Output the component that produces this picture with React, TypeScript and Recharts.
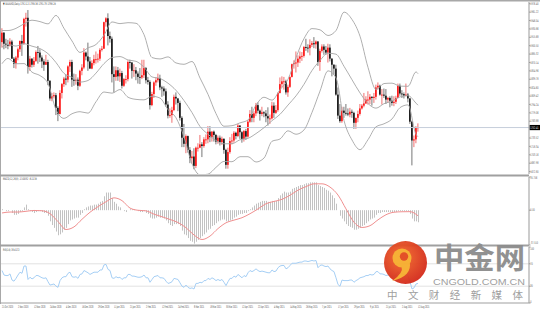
import React from 'react';
import { ComposedChart, Bar, Line, XAxis, YAxis, ReferenceLine } from 'recharts';

// ---- daily XAUUSD bars, 21 Oct 2020 .. 12 Aug 2021 ----
const openP = [
  1907,1924,1904,1902,1901,1908,1877,1868,
  1879,1894,1909,1904,1949,1951,1862,1877,1866,1873,1889,1888,1879,1872,1866,1871,1837,1805,1809,1811,1788,
  1777,1815,1831,1841,1839,1863,1871,1839,1837,1839,1828,1855,1861,1888,1881,1872,1859,1869,1876,1876,1877,1893,
  1895,1943,1950,1918,1913,1849,1844,1856,1845,1851,1828,1840,1840,1871,1870,1855,1856,1850,1844,1843,
  1847,1860,1838,1835,1793,1813,1834,1838,1842,1825,1823,1818,1794,1774,1775,1784,1808,1805,1797,1770,
  1734,1723,1737,1712,1697,1700,1683,1716,1716,1722,1719,1731,1731,1745,1735,1745,1739,1727,1734,1726,1732,1712,1685,
  1708,1728,1729,1743,1737,1756,1744,1732,1746,1736,1763,1777,1770,1778,1793,1783,1777,1780,1778,1773,1769,
  1769,1792,1779,1784,1815,1831,1836,1836,1816,1826,1844,1867,1869,1870,1877,1881,1882,1898,1897,1896,1902,
  1905,1903,1908,1871,1891,1899,1893,1888,1897,1877,1866,1859,1812,1774,1764,1783,1779,1778,1776,1781,1779,1761,
  1770,1777,1787,1792,1796,1803,1803,1808,1806,1808,1825,1828,1812,1812,1810,1803,1806,1801,1797,1799,1806,1828,
  1814,1813,1810,1812,1805,1763,1729,1731,1752,
];
const highP = [
  1932,1925,1913,1911,1914,1911,1880,1882,
  1897,1910,1920,1951,1960,1965,1882,1878,1880,1892,1900,1894,1883,1876,1884,1875,1838,1815,1816,1815,1791,
  1820,1833,1844,1848,1865,1875,1875,1850,1849,1843,1857,1867,1896,1890,1906,1880,1874,1884,1890,1886,1896,1900,
  1944,1952,1959,1926,1917,1863,1863,1862,1859,1855,1842,1847,1874,1875,1871,1867,1862,1854,1860,1875,
  1875,1862,1844,1838,1817,1836,1843,1850,1848,1828,1827,1823,1800,1787,1790,1812,1816,1806,1801,1773,
  1759,1740,1738,1717,1710,1715,1718,1724,1739,1726,1735,1740,1755,1755,1746,1747,1741,1738,1738,1736,1733,1714,1716,
  1735,1741,1746,1745,1759,1757,1746,1748,1750,1766,1784,1790,1782,1797,1798,1785,1790,1782,1784,1789,1776,
  1799,1798,1793,1816,1843,1845,1844,1839,1830,1845,1868,1874,1890,1883,1890,1889,1900,1913,1903,1912,1909,
  1916,1910,1909,1895,1903,1903,1900,1904,1903,1878,1867,1866,1825,1795,1790,1790,1795,1787,1788,1785,1781,1770,
  1783,1795,1795,1815,1809,1818,1813,1809,1815,1830,1834,1830,1822,1823,1822,1808,1809,1810,1809,1810,1832,1832,
  1820,1816,1832,1815,1806,1765,1738,1755,1760,
];
const lowP = [
  1897,1894,1896,1894,1899,1877,1860,1859,
  1874,1889,1882,1902,1935,1850,1855,1861,1862,1871,1868,1871,1860,1855,1866,1829,1801,1800,1805,1775,1764,
  1776,1805,1826,1829,1834,1853,1826,1828,1830,1820,1826,1847,1858,1874,1855,1859,1858,1865,1868,1870,1873,1890,
  1895,1935,1901,1906,1834,1816,1837,1837,1835,1823,1826,1832,1836,1859,1841,1844,1838,1832,1831,1840,
  1842,1832,1830,1785,1791,1806,1828,1834,1820,1808,1810,1790,1769,1770,1761,1782,1794,1782,1765,1717,
  1717,1706,1707,1688,1687,1677,1679,1709,1715,1699,1716,1723,1724,1726,1727,1727,1722,1723,1720,1721,1705,1678,1678,
  1705,1722,1725,1731,1735,1732,1725,1727,1730,1734,1761,1762,1762,1773,1778,1765,1773,1771,1762,1756,1759,
  1767,1770,1777,1781,1814,1825,1821,1812,1808,1824,1843,1859,1852,1862,1869,1873,1879,1891,1888,1883,1898,
  1896,1895,1864,1855,1888,1884,1884,1870,1872,1845,1848,1810,1768,1761,1761,1770,1774,1773,1771,1770,1750,1750,
  1762,1774,1785,1789,1795,1794,1795,1792,1797,1803,1821,1810,1794,1806,1795,1797,1789,1792,1791,1795,1805,1810,
  1806,1805,1809,1798,1759,1684,1717,1724,1745,
];
const closeP = [
  1924,1904,1902,1901,1908,1877,1868,1879,
  1894,1909,1904,1949,1951,1862,1877,1866,1873,1889,1888,1879,1872,1866,1871,1837,1805,1809,1811,1788,1777,
  1815,1831,1841,1839,1863,1871,1839,1837,1839,1828,1855,1861,1888,1881,1872,1859,1869,1876,1876,1877,1893,1895,
  1943,1950,1918,1913,1849,1844,1856,1845,1851,1828,1840,1840,1871,1870,1855,1856,1850,1844,1843,1847,
  1860,1838,1835,1793,1813,1834,1838,1842,1825,1823,1818,1794,1774,1775,1784,1808,1805,1797,1770,1734,
  1723,1737,1712,1697,1700,1683,1716,1716,1722,1719,1731,1731,1745,1735,1745,1739,1727,1734,1726,1732,1712,1685,1708,
  1728,1729,1743,1737,1756,1744,1732,1746,1736,1763,1777,1770,1778,1793,1783,1777,1780,1778,1773,1769,1769,
  1792,1779,1784,1815,1831,1836,1836,1816,1826,1844,1867,1869,1870,1877,1881,1882,1898,1897,1896,1902,1905,
  1903,1908,1871,1891,1899,1893,1888,1897,1877,1866,1859,1812,1774,1764,1783,1779,1778,1776,1781,1779,1761,1770,
  1777,1787,1792,1796,1803,1803,1808,1806,1808,1825,1828,1812,1812,1810,1803,1806,1801,1797,1799,1806,1828,1814,
  1813,1810,1812,1805,1763,1729,1731,1752,1753,
];

// ---- Bollinger bands (20,2), read at sampled bars ----
const bbIdx = [0,3,7,11,15,19,23,27,31,35,39,43,47,51,55,59,63,67,71,75,79,83,87,91,95,99,103,107,111,115,119,123,127,131,135,139,143,147,151,155,159,163,167,171,175,179,183,187,191,195,199,203,207,208];
const bbUp = [1927.9,1927.9,1931.8,1940.1,1946.6,1944.0,1940.0,1955.2,1931.8,1909.0,1888.3,1896.5,1902.7,1919.5,1943.4,1940.4,1942.1,1941.0,1920.5,1879.0,1876.5,1880.2,1869.3,1866.8,1871.9,1842.0,1812.5,1777.6,1754.8,1755.8,1760.9,1766.1,1792.9,1807.2,1802.0,1820.9,1839.7,1879.1,1913.3,1931.4,1929.2,1918.9,1927.9,1961.2,1947.9,1917.6,1861.3,1821.3,1832.0,1832.7,1827.3,1827.0,1853.0,1849.8];
const bbMid = [1897.9,1902.7,1899.8,1904.1,1899.6,1895.2,1886.0,1870.0,1850.4,1843.2,1834.7,1837.5,1850.9,1868.1,1879.0,1880.8,1874.7,1872.2,1861.5,1844.0,1841.1,1832.6,1819.7,1801.2,1779.5,1754.4,1740.3,1729.0,1723.0,1723.2,1730.3,1732.9,1741.5,1752.2,1764.8,1776.3,1793.1,1809.7,1830.7,1855.6,1873.8,1886.9,1885.1,1863.2,1838.9,1815.0,1795.9,1787.5,1795.6,1800.3,1807.9,1810.2,1796.6,1792.8];
const bbLo = [1867.9,1877.5,1867.8,1868.1,1852.6,1846.4,1832.0,1784.8,1769.0,1777.4,1781.1,1778.5,1799.1,1816.7,1814.6,1821.2,1807.3,1803.4,1802.5,1809.0,1805.7,1785.0,1770.1,1735.6,1687.1,1666.8,1668.1,1680.4,1691.2,1690.6,1699.7,1699.7,1690.1,1697.2,1727.6,1731.7,1746.5,1740.3,1748.1,1779.8,1818.4,1854.9,1842.3,1765.2,1729.9,1712.4,1730.5,1753.7,1759.2,1767.9,1788.5,1793.4,1740.2,1735.8];

// ---- MACD(12,26,9) main (histogram) per bar ----
const macdMain = [
  1,0,-1,-1,0,-3,-5,-5,
  -4,-2,-1,3,6,1,-1,-2,-3,-2,-1,-1,-2,-3,-3,-6,-12,-16,-19,-23,-27,
  -26,-24,-21,-19,-15,-11,-10,-9,-8,-8,-5,-3,1,3,4,5,5,6,6,7,9,10,
  15,19,19,19,13,9,7,4,3,0,-1,-2,0,1,1,1,0,-1,-2,-2,
  -1,-3,-4,-8,-9,-9,-8,-7,-8,-8,-9,-11,-14,-16,-17,-15,-15,-15,-17,-22,
  -26,-27,-30,-33,-34,-36,-34,-32,-30,-28,-26,-24,-21,-20,-17,-16,-14,-12,-11,-10,-10,-12,-12,
  -11,-10,-8,-7,-5,-4,-4,-3,-3,-1,1,3,5,7,8,9,10,10,10,9,9,
  10,10,10,13,16,18,20,19,19,20,23,24,25,26,27,27,28,29,29,30,30,
  30,30,27,26,25,24,22,21,19,16,13,7,0,-6,-9,-12,-15,-17,-18,-19,-21,-21,
  -20,-19,-17,-16,-14,-12,-10,-9,-8,-5,-3,-3,-2,-2,-2,-2,-2,-2,-2,-2,-1,-1,
  -1,-1,-1,-1,-4,-9,-12,-12,-13,
];
const sigIdx = [0,4,8,12,16,20,24,28,32,36,40,44,48,52,56,60,64,68,72,76,80,84,88,92,96,100,104,108,112,116,120,124,128,132,136,140,144,148,152,156,160,164,168,172,176,180,184,188,192,196,200,204,208];
const sigVal = [-3,-2,-2,-1.2,-0.3,-0.6,-3.7,-12.3,-20.8,-18,-9.8,-2.2,3.8,9.1,13.3,10.3,2.3,-0.1,-0.7,-4.3,-7.1,-10,-13.3,-18.9,-26.7,-31.6,-27.9,-19.8,-13.6,-10.7,-8.1,-3.8,1.4,7,9.4,11.7,16.1,21.6,25.4,28.4,28.4,24.9,16.3,1.4,-13,-18.6,-16.7,-10.4,-4.9,-2.2,-1.7,-1.6,-6];

// ---- RSI(14) per bar ----
const rsi14 = [
  58,50,49,49,52,41,39,44,
  50,55,53,66,66,42,46,43,45,49,49,47,45,44,45,38,32,33,34,30,28,
  40,45,47,47,53,55,47,46,47,44,51,52,58,56,54,51,53,55,55,55,59,59,
  68,69,60,58,45,44,47,45,46,42,45,45,51,51,48,48,47,46,46,47,
  50,45,45,37,42,47,48,49,45,45,44,39,35,36,38,44,43,42,36,30,
  28,32,28,26,27,25,35,35,37,36,40,40,44,42,45,43,40,42,40,42,37,31,38,
  44,44,48,46,51,48,45,49,47,54,58,56,58,61,58,56,57,56,55,54,54,
  59,56,57,63,66,67,67,61,63,67,71,71,71,72,73,73,75,75,74,75,76,
  75,76,63,67,68,66,65,66,61,58,56,45,33,30,41,40,40,40,41,41,37,40,
  42,45,46,47,49,49,51,50,51,56,56,52,52,51,49,50,49,48,48,50,56,52,
  52,51,51,49,38,25,27,34,35,
];

// ---- axis labels ----
const priceTicks = [1976.40,1961.22,1946.04,1930.86,1915.68,1900.50,1885.32,1870.14,1854.96,1839.78,1824.60,1809.42,1794.24,1779.06,1763.88,1733.52,1718.34,1703.16,1687.98,1672.80];
const lastPrice = 1752.41;
const macdTicks = [35.756, 0, -37.51];
const macdTickLabels = ['35.756', '0.00', '-37.510'];
const rsiTicks = [100, 70, 30, 0];
const dateIdx = [0,8,16,24,32,40,48,56,64,72,80,88,96,104,112,120,128,136,144,152,160,168,176,184,192,200,208];
const dateLabels = ['21 Oct 2020','2 Nov 2020','12 Nov 2020','24 Nov 2020','4 Dec 2020','16 Dec 2020','29 Dec 2020','11 Jan 2021','21 Jan 2021','2 Feb 2021','12 Feb 2021','24 Feb 2021','8 Mar 2021','18 Mar 2021','30 Mar 2021','12 Apr 2021','22 Apr 2021','4 May 2021','14 May 2021','26 May 2021','7 Jun 2021','17 Jun 2021','29 Jun 2021','9 Jul 2021','21 Jul 2021','2 Aug 2021','12 Aug 2021'];

type Row = {
  i: number; o: number; h: number; l: number; c: number; range: number[];
  macd: number; rsi: number; up: number | null; mid: number | null; lo: number | null; sig: number | null;
};
const rows: Row[] = closeP.map((c, i) => ({
  i, o: openP[i], h: highP[i], l: lowP[i], c, range: [lowP[i], highP[i]],
  macd: macdMain[i], rsi: rsi14[i], up: null, mid: null, lo: null, sig: null,
}));
bbIdx.forEach((d, k) => { rows[d].up = bbUp[k]; rows[d].mid = bbMid[k]; rows[d].lo = bbLo[k]; });
sigIdx.forEach((d, k) => { rows[d].sig = sigVal[k]; });

const X_DOMAIN: [number, number] = [-1, 263.5];
const FONT = 'DejaVu Sans';

// tiny, horizontally condensed label text (like the terminal's small axis font)
const Tiny = ({ x, y, children, fill = '#555', sx = 0.55, size = 3.6 }: any) => (
  <text transform={`translate(${x},${y}) scale(${sx},1)`} fontSize={size} fill={fill} fontFamily={FONT}>
    {children}
  </text>
);

const Candle = (props: any) => {
  const { x, y, width, height, payload } = props;
  if (x == null || !payload) return null;
  const { o, h, l, c } = payload;
  const top = Math.min(y, y + height);
  const hh = Math.abs(height);
  const py = (p: number) => top + (h === l ? 0 : ((h - p) / (h - l)) * hh);
  const cx = x + width / 2;
  const bull = c >= o;
  const bt = py(Math.max(o, c));
  const bb = py(Math.min(o, c));
  return (
    <g>
      <line x1={cx} x2={cx} y1={top} y2={top + hh} stroke={bull ? '#f07070' : '#777'} strokeWidth={1} />
      <rect x={cx - 0.8} y={bt} width={1.6} height={Math.max(0.9, bb - bt)} fill={bull ? '#ff1010' : '#111'} />
    </g>
  );
};

const HistBar = (props: any) => {
  const { x, y, width, height } = props;
  if (x == null) return null;
  const top = Math.min(y, y + height);
  return <rect x={Math.round(x + width / 2)} y={top} width={1} height={Math.abs(height)} fill="#c2c2c2" />;
};

const PriceTick = (props: any) => (
  <Tiny x={530.3} y={props.y + 1.2}>{Number(props.payload.value).toFixed(2)}</Tiny>
);

const MacdTick = (props: any) => {
  const k = macdTicks.indexOf(props.payload.value);
  const dy = k === 0 ? 2.2 : k === 2 ? -0.6 : 1.2;
  return <Tiny x={530.3} y={props.y + dy}>{k >= 0 ? macdTickLabels[k] : ''}</Tiny>;
};

const RsiTick = (props: any) => {
  const v = props.payload.value;
  const dy = v === 100 ? 3.2 : v === 0 ? -0.4 : 1.2;
  return <Tiny x={530.3} y={props.y + dy}>{String(v)}</Tiny>;
};

const DateTick = (props: any) => {
  const k = dateIdx.indexOf(props.payload.value);
  if (k < 0) return null;
  return <Tiny x={props.x} y={props.y + 4.6} fill="#444" sx={0.5}>{dateLabels[k]}</Tiny>;
};

const PriceTag = (props: any) => {
  const vb = props.viewBox || {};
  const yy = vb.y ?? 0;
  const xx = (vb.x ?? 0) + (vb.width ?? 0);
  return (
    <g>
      <rect x={xx + 0.5} y={yy - 2.6} width={10.5} height={5.2} fill="#000" />
      <Tiny x={xx + 1.3} y={yy + 1.2} fill="#fff">{lastPrice.toFixed(2)}</Tiny>
    </g>
  );
};

export default function App() {
  return (
    <div style={{ position: 'fixed', left: 0, top: 0, width: 540, height: 311, background: '#fff', overflow: 'hidden' }}>
      {/* main price panel */}
      <div style={{ position: 'absolute', left: 0, top: 0 }}>
        <ComposedChart width={540} height={176} data={rows} margin={{ top: 2, right: 0, bottom: 2, left: 0 }}>
          <XAxis type="number" dataKey="i" domain={X_DOMAIN} hide allowDataOverflow />
          <YAxis
            orientation="right" width={11} domain={[1668.4, 1979.5]} allowDataOverflow ticks={priceTicks} interval={0}
            tick={<PriceTick />} tickSize={1.5} axisLine={{ stroke: '#999' }} tickLine={{ stroke: '#999' }}
          />
          <ReferenceLine y={lastPrice} stroke="#c6cedb" strokeWidth={1} label={<PriceTag />} ifOverflow="visible" />
          <Bar dataKey="range" barSize={2} shape={<Candle />} isAnimationActive={false} />
          <Line dataKey="up" type="monotone" stroke="#a6a6a6" strokeWidth={0.9} dot={false} activeDot={false} connectNulls isAnimationActive={false} />
          <Line dataKey="mid" type="monotone" stroke="#a6a6a6" strokeWidth={0.9} dot={false} activeDot={false} connectNulls isAnimationActive={false} />
          <Line dataKey="lo" type="monotone" stroke="#a6a6a6" strokeWidth={0.9} dot={false} activeDot={false} connectNulls isAnimationActive={false} />
        </ComposedChart>
      </div>

      {/* MACD panel */}
      <div style={{ position: 'absolute', left: 0, top: 176 }}>
        <ComposedChart width={540} height={70} data={rows} margin={{ top: 1, right: 0, bottom: 1, left: 0 }}>
          <XAxis type="number" dataKey="i" domain={X_DOMAIN} hide allowDataOverflow />
          <YAxis
            orientation="right" width={11} domain={[-37.51, 35.756]} allowDataOverflow ticks={macdTicks} interval={0}
            tick={<MacdTick />} tickSize={1.5} axisLine={{ stroke: '#999' }} tickLine={{ stroke: '#999' }}
          />
          <Bar dataKey="macd" barSize={1} shape={<HistBar />} isAnimationActive={false} />
          <Line dataKey="sig" type="monotone" stroke="#f09090" strokeWidth={1} dot={false} activeDot={false} connectNulls isAnimationActive={false} />
        </ComposedChart>
      </div>

      {/* RSI panel + date axis */}
      <div style={{ position: 'absolute', left: 0, top: 246 }}>
        <ComposedChart width={540} height={65} data={rows} margin={{ top: 1, right: 0, bottom: 0, left: 0 }}>
          <XAxis
            type="number" dataKey="i" domain={X_DOMAIN} allowDataOverflow ticks={dateIdx} interval={0}
            tick={<DateTick />} tickSize={0} tickMargin={0} height={8} axisLine={false} tickLine={false}
          />
          <YAxis
            orientation="right" width={11} domain={[0, 100]} ticks={rsiTicks} interval={0}
            tick={<RsiTick />} tickSize={1.5} axisLine={{ stroke: '#999' }} tickLine={{ stroke: '#999' }}
          />
          <ReferenceLine y={70} stroke="#e2e2e2" strokeWidth={1} />
          <ReferenceLine y={30} stroke="#e2e2e2" strokeWidth={1} />
          <Line dataKey="rsi" type="linear" stroke="#a6cff5" strokeWidth={1} dot={false} activeDot={false} isAnimationActive={false} />
        </ComposedChart>
      </div>

      {/* frame, panel captions, watermark */}
      <svg width={540} height={311} style={{ position: 'absolute', left: 0, top: 0, pointerEvents: 'none' }}>
        <defs>
          <radialGradient id="logoG" cx="42%" cy="38%" r="65%">
            <stop offset="0" stopColor="#f26b2a" />
            <stop offset="1" stopColor="#d3281a" />
          </radialGradient>
        </defs>
        <rect x={0} y={0} width={540} height={1.5} fill="#a8a8a8" />
        <rect x={0} y={0} width={1} height={304} fill="#a8a8a8" />
        <rect x={0} y={174.5} width={529} height={2} fill="#a0a0a0" />
        <rect x={0} y={244.5} width={529} height={2} fill="#a0a0a0" />
        <rect x={0} y={302.5} width={529} height={1} fill="#a0a0a0" />

        <Tiny x={3} y={5} fill="#333" sx={0.6} size={3.4}>▼ XAUUSD,Daily  1752.12 1759.36 1751.75 1756.28</Tiny>
        <Tiny x={3} y={180} fill="#333" sx={0.6} size={3.4}>MACD(12,26,9) -13.0052 -6.1138</Tiny>
        <Tiny x={3} y={250.5} fill="#333" sx={0.6} size={3.4}>RSI(14) 35.4172</Tiny>

        <g opacity={0.95}>
          <circle cx={405.5} cy={262.5} r={21.5} fill="url(#logoG)" />
          <circle cx={402} cy={258} r={9.5} fill="#f6ac2c" />
          <circle cx={404} cy={256.5} r={4.2} fill="#e2471d" />
          <path d="M409.5 261 Q413 276 392 281 Q404 273 401.5 266 Z" fill="#f6ac2c" />
          <text x={434} y={268.5} fontSize={29} fontWeight={700} fill="#8c8c8c" fontFamily="Noto Sans CJK SC" textLength={91} lengthAdjust="spacingAndGlyphs">中金网</text>
          <text x={433} y={284.5} fontSize={8.5} fill="#9a9a9a" fontFamily="Liberation Sans" textLength={92} lengthAdjust="spacingAndGlyphs">CNGOLD.COM.CN</text>
          <text x={387} y={298.5} fontSize={10.5} fill="#9a9a9a" fontFamily="Noto Sans CJK SC" textLength={136} lengthAdjust="spacing">中文财经新媒体</text>
        </g>
      </svg>
    </div>
  );
}
